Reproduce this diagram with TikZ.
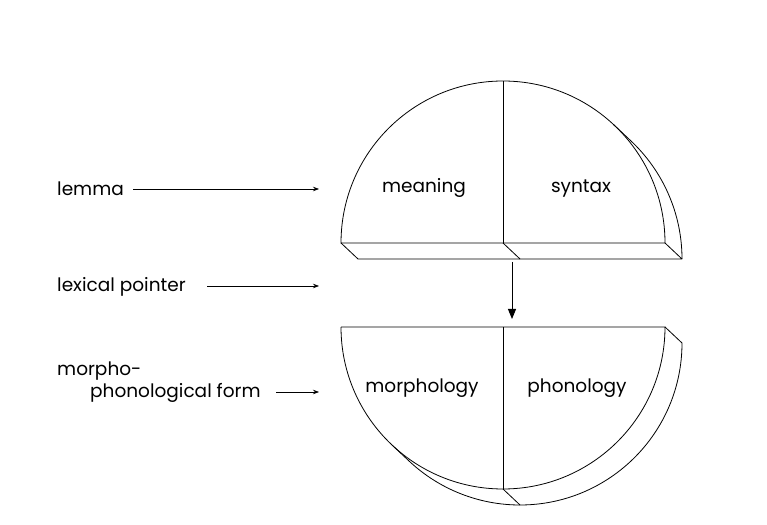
\documentclass[tikz,border=0pt]{standalone}
\usepackage{fontspec}
\setmainfont{Poppins}
\usetikzlibrary{arrows.meta,calc}
\begin{document}
\begin{tikzpicture}[x=1pt,y=1pt,
  edge/.style={line width=0.8pt,line join=round},
  lbl/.style={inner sep=0pt,font=\fontsize{18.5}{21}\selectfont},
  ptr/.style={line width=0.7pt,-{Stealth[length=6pt,width=4.5pt]}},
  down/.style={line width=0.9pt,-{Triangle[length=10pt,width=8pt]}}]
\useasboundingbox (0,0) rectangle (767,524);
% ---- top half-disc (lemma) ----
\coordinate (c1) at (503,281);
\coordinate (c1b) at (520,265);
\draw[edge] (341,281) arc[start angle=180,end angle=0,radius=162] -- cycle;
\draw[edge] (341,281) -- (358,265) -- (682,265) -- (665,281);
\draw[edge] (682,265) arc[start angle=0,end angle=47,radius=162] -- ($(c1)+(47:162)$);
\draw[edge] (c1) -- (c1b);
\draw[edge] (c1) -- (503,443);
% ---- bottom half-disc (form) ----
\coordinate (c2) at (503,197);
\coordinate (c2b) at (520,181);
\draw[edge] (341,197) -- (665,197) arc[start angle=0,end angle=-180,radius=162];
\draw[edge] (665,197) -- (682,181) arc[start angle=0,end angle=-133,radius=162] -- ($(c2)+(-133:162)$);
\draw[edge] (503,35) -- (520,19);
\draw[edge] (c2) -- (503,35);
% ---- inner labels ----
\node[lbl,anchor=base] (meaning) at (424,331) {meaning};
\node[lbl,anchor=base] (syntax) at (581,331) {syntax};
\node[lbl,anchor=base] (morphology) at (422,131) {morphology};
\node[lbl,anchor=base] (phonology) at (577,131) {phonology};
% ---- left labels ----
\node[lbl,anchor=base west] (lemma) at (57,328) {lemma};
\node[lbl,anchor=base west] (lexptr) at (57,232) {lexical pointer};
\node[lbl,anchor=base west] (morpho) at (57,148) {morpho-};
\node[lbl,anchor=base west] (mpform) at (90,126) {phonological form};
\coordinate (lemmaS) at (133,335);
\coordinate (lemmaE) at (319,335);
\coordinate (lexS) at (207,238);
\coordinate (lexE) at (319,238);
\coordinate (formS) at (276,132);
\coordinate (formE) at (319,132);
\draw[ptr] (lemmaS) -- (lemmaE);
\draw[ptr] (lexS) -- (lexE);
\draw[ptr] (formS) -- (formE);
% ---- pointer arrow between halves ----
\coordinate (vS) at (512,262);
\coordinate (vE) at (512,205);
\draw[down] (vS) -- (vE);
\end{tikzpicture}
\end{document}
